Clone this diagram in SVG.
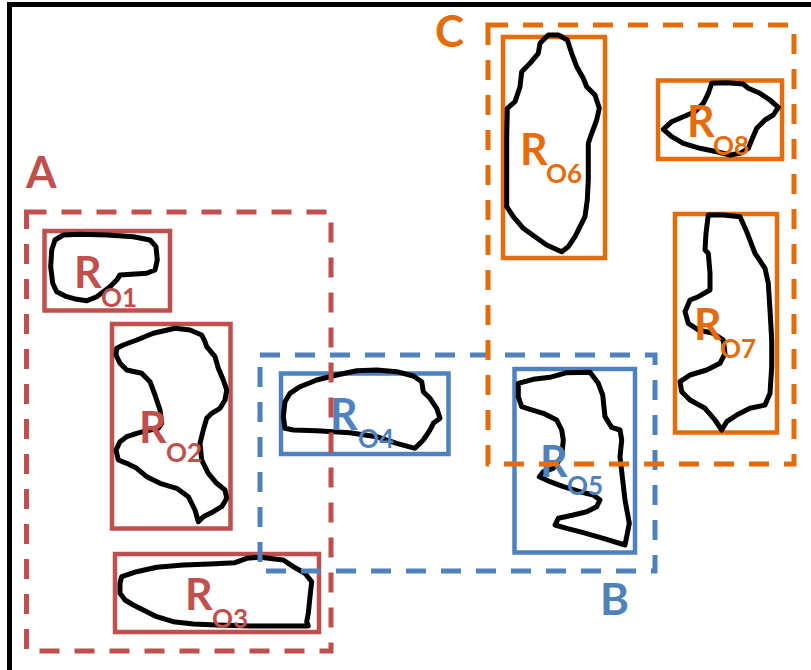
<svg xmlns="http://www.w3.org/2000/svg" width="811" height="670" viewBox="0 0 811 670">
<style>
.frame{fill:none;stroke:#000;stroke-width:5}
.box{fill:none;stroke-width:4.5;stroke-linejoin:miter}
.grp{fill:none;stroke-width:5;stroke-dasharray:20 15}
.blob{fill:none;stroke:#000;stroke-width:5;stroke-linejoin:round;stroke-linecap:round}
.red{stroke:#C0504D}
.blue{stroke:#4F81BD}
.orange{stroke:#E46C0A}
.t{font-family:Lato,"Open Sans","Liberation Sans",sans-serif;font-weight:bold}
.big{font-size:43px}
.sub{font-size:26px}
.tl{font-size:44px}
.fr{fill:#C0504D}
.fb{fill:#4F81BD}
.fo{fill:#E46C0A}
</style>
<rect width="811" height="670" fill="#fff"/>
<path class="frame" d="M9.5,670 V4.5 H811"/>

<g id="RO1">
<rect class="box red" x="44.5" y="231" width="125.5" height="79.5"/>
<polygon class="blob" points="55,240 63.3,235 80,234.3 106.7,235 133.3,236.7 150,240 156,246.7 157.3,260 155,270 146.7,273.3 120,275 116.7,280 110,286.7 103.3,291.7 96.7,296.7 86.7,300.7 76.7,299.3 66.7,296.7 56.7,291.7 52.7,283.3 50.7,266.7 51.7,250"/>
<text class="t big fr" x="74" y="288">R</text><text class="t sub fr" x="101" y="307">O1</text>
</g>

<g id="RO2">
<rect class="box red" x="112" y="324" width="118.5" height="204.5"/>
<polygon class="blob" points="116.7,348.3 123.3,345 136.7,340 153.3,333.3 175,328.3 190,330 201.7,335 205,341.7 206.7,346.7 215,356.7 218.3,368.3 223.3,380 226.7,390 225,400 220,408.3 211.7,413.3 206.7,418.3 203.3,430 200,443.3 201.7,460 208.3,473.3 216.7,483.3 225,490 226.7,498.3 221.7,506.7 213.3,511.7 203.3,516.7 198.3,521.7 195,510 188.3,496.7 176.7,488.3 160,483.3 146.7,476.7 136.7,468.3 126.7,463.3 118.3,460 116,450 120,441.7 126.7,436.7 136.7,433.3 146.7,430.7 158.3,428.3 161.7,423.3 160,410 155,395 150,381.7 141.7,373.3 126.7,370 120,363.3 116,355"/>
<text class="t big fr" x="139" y="443">R</text><text class="t sub fr" x="166" y="462">O2</text>
</g>

<g id="RO3">
<rect class="box red" x="115" y="554" width="204" height="78"/>
<polygon class="blob" points="121.7,576.7 136.7,571.7 156.7,567.3 183.3,565 210,564 235,562.7 246.7,558.3 260,557.3 283.3,560 293.3,566.7 305,573.3 311.7,581.7 310,596.7 308.3,613.3 306.7,621.7 308.3,626 286.7,626 250,626 216.7,625 193.3,624 173.3,621.7 156.7,616.7 143.3,610 133.3,605 125,600 120,593.3 120,583.3"/>
<text class="t big fr" x="185" y="610">R</text><text class="t sub fr" x="212" y="628">O3</text>
</g>

<g id="RO4">
<rect class="box blue" x="281" y="373.5" width="167.5" height="80.5"/>
<polygon class="blob" points="285,428.3 283.3,416.7 285,401.7 290,393.3 300,386.7 316.7,380 336.7,375 356.7,370.7 376.7,370 396.7,371.7 413.3,376 421.7,381.7 423.3,391.7 430,398.3 436.7,408.3 440,418.3 433.3,423.3 430,430 423.3,440 415,448.3 396.7,443.3 376.7,436.7 350,432.7 316.7,430.7 293.3,430"/>
<text class="t big fb" x="330" y="430">R</text><text class="t sub fb" x="358" y="448">O4</text>
</g>

<g id="RO5">
<rect class="box blue" x="514.5" y="369" width="120.5" height="183.5"/>
<polygon class="blob" points="518.3,383.3 533.3,379.3 550,377.3 566.7,372.7 590,372.3 598.3,383.3 602.7,395 605,416.7 611.7,427.3 620,430 621.7,440 620,456.7 622.7,480 625,500 629.3,523.3 626.7,536.7 625,545 603.3,538.3 583.3,532.7 566.7,528.3 555,525 558.3,518.3 573.3,515 586.7,511.7 596.7,506.7 600,500 593.3,495 580,491.7 563.3,486.7 550,481.7 539.3,476.7 543.3,471.7 553.3,468.3 561.7,456.7 563.3,440 561.7,430 556.7,420 543.3,413.3 530,409.3 521.7,406.7 518.3,396.7"/>
<text class="t big fb" x="540" y="477">R</text><text class="t sub fb" x="567" y="495">O5</text>
</g>

<g id="RO6">
<rect class="box orange" x="503" y="37" width="102" height="221"/>
<polygon class="blob" points="548.3,35 558.3,35 567.3,40 571.7,53.3 576.7,66.7 583.3,78.3 586.7,86.7 595,95 599.3,108.3 596.7,120 591.7,133.3 588.3,143.3 588.3,160 588.3,180 587.3,200 585,216.7 580,226.7 575,236.7 568.3,246.7 561.7,251.7 546.7,245 535,236.7 523.3,228.3 513.3,216.7 506.7,206.7 506.7,170 506.7,136.7 507.3,108.3 515,101.7 520,86.7 521.7,71.7 530,63.3 538.3,53.3 540,43.3"/>
<text class="t big fo" x="520" y="165">R</text><text class="t sub fo" x="546" y="183">O6</text>
</g>

<g id="RO7">
<rect class="box orange" x="675" y="214" width="102" height="218.5"/>
<polygon class="blob" points="708.3,215 723.3,215 740,216.7 746.7,231.7 755,253.3 765,268.3 768.3,283.3 770,310 771.7,340 771.7,366.7 770,393.3 765,405 750,408.3 736.7,415 726.7,421.7 721.7,430 715,420 705,408.3 690,400 681.7,391.7 680,381.7 690,375 706.7,370 720,363.3 725,353.3 723.3,340 713.3,333.3 698.3,330 688.3,323.3 685,311.7 690,300 698.3,296.7 710,290 710,273.3 708.3,253.3 705,250 706,233.3"/>
<text class="t big fo" x="694" y="340">R</text><text class="t sub fo" x="720" y="358">O7</text>
</g>

<g id="RO8">
<rect class="box orange" x="658" y="80.5" width="124" height="78.5"/>
<polygon class="blob" points="711.7,83.3 726.7,82.7 743.3,84 748.3,88.3 760,93.3 770,100 778.3,107.3 773.3,115 765,120 756.7,128.3 751.7,140 748.3,148.3 740,153.3 730,155 716.7,151.7 700,148.3 683.3,143.3 671.7,136.7 663.3,129.3 671.7,121.7 683.3,116.7 695,111.7 703.3,103.3 708.3,93.3"/>
<text class="t big fo" x="687" y="137">R</text><text class="t sub fo" x="713" y="155">O8</text>
</g>

<g id="group-A">
<rect class="grp red" x="26.5" y="212" width="304.5" height="439"/>
<text class="t tl fr" x="26" y="188">A</text>
</g>
<g id="group-B">
<rect class="grp blue" x="260" y="355" width="395" height="216"/>
<text class="t tl fb" x="600" y="615">B</text>
</g>
<g id="group-C">
<rect class="grp orange" x="488" y="25" width="306" height="439"/>
<text class="t tl fo" x="435" y="47">C</text>
</g>
<g id="connectors"/>
</svg>
